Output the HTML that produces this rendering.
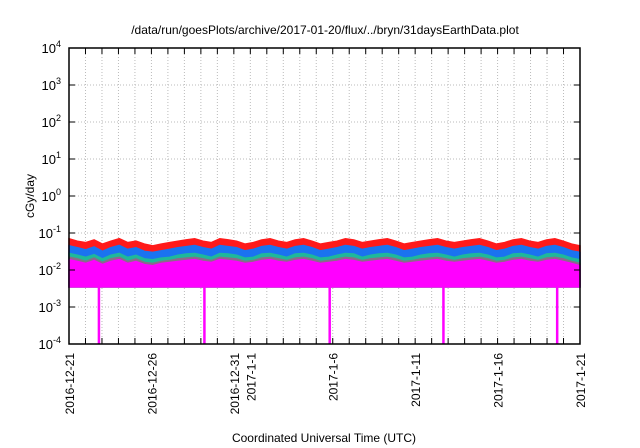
<!DOCTYPE html>
<html><head><meta charset="utf-8"><style>
body{margin:0;background:#fff;}
svg{display:block;font-family:"Liberation Sans",sans-serif;}
</style></head><body>
<svg id="chart" width="640" height="448" viewBox="0 0 640 448">
<rect width="640" height="448" fill="#fff"/>
<text x="325" y="34" text-anchor="middle" font-size="12">/data/run/goesPlots/archive/2017-01-20/flux/../bryn/31daysEarthData.plot</text>
<text transform="translate(34,196) rotate(-90)" text-anchor="middle" font-size="12">cGy/day</text>
<text x="324" y="442" text-anchor="middle" font-size="12">Coordinated Universal Time (UTC)</text>
<g id="grid"></g><g id="series"></g><g id="axes"></g>
</svg>
<script>
const yTickExps=[-4,-3,-2,-1,0,1,2,3,4];
const xTickLabels=["2016-12-21","2016-12-26","2016-12-31","2017-1-1","2017-1-6","2017-1-11","2017-1-16","2017-1-21"];
const xTickDays=[0,5,10,11,16,21,26,31];
const red=[0.07,0.06,0.055,0.065,0.05,0.06,0.07,0.055,0.06,0.05,0.045,0.05,0.055,0.06,0.065,0.07,0.06,0.055,0.07,0.065,0.06,0.05,0.055,0.065,0.07,0.06,0.055,0.065,0.07,0.06,0.05,0.055,0.06,0.07,0.065,0.055,0.06,0.065,0.07,0.06,0.05,0.055,0.06,0.065,0.07,0.06,0.055,0.06,0.065,0.07,0.06,0.05,0.055,0.065,0.07,0.06,0.055,0.065,0.07,0.06,0.05,0.045];
const blue=[0.045,0.04,0.035,0.042,0.032,0.04,0.046,0.036,0.04,0.032,0.03,0.033,0.036,0.04,0.043,0.046,0.04,0.036,0.046,0.043,0.04,0.033,0.036,0.043,0.046,0.04,0.036,0.043,0.046,0.04,0.033,0.036,0.04,0.046,0.043,0.036,0.04,0.043,0.046,0.04,0.033,0.036,0.04,0.043,0.046,0.04,0.036,0.04,0.043,0.046,0.04,0.033,0.036,0.043,0.046,0.04,0.036,0.043,0.046,0.04,0.033,0.03];
const teal=[0.028,0.025,0.022,0.026,0.02,0.025,0.028,0.022,0.025,0.02,0.019,0.021,0.022,0.025,0.027,0.028,0.025,0.022,0.028,0.027,0.025,0.021,0.022,0.027,0.028,0.025,0.022,0.027,0.028,0.025,0.021,0.022,0.025,0.028,0.027,0.022,0.025,0.027,0.028,0.025,0.021,0.022,0.025,0.027,0.028,0.025,0.022,0.025,0.027,0.028,0.025,0.021,0.022,0.027,0.028,0.025,0.022,0.027,0.028,0.025,0.021,0.019];
const gray=[0.022,0.02,0.017,0.021,0.016,0.02,0.022,0.017,0.02,0.016,0.015,0.017,0.018,0.02,0.021,0.022,0.02,0.018,0.022,0.021,0.02,0.017,0.018,0.021,0.022,0.02,0.018,0.021,0.022,0.02,0.017,0.018,0.02,0.022,0.021,0.018,0.02,0.021,0.022,0.02,0.017,0.018,0.02,0.021,0.022,0.02,0.018,0.02,0.021,0.022,0.02,0.017,0.018,0.021,0.022,0.02,0.018,0.021,0.022,0.02,0.017,0.015];
const magenta=[0.019,0.017,0.015,0.018,0.014,0.017,0.019,0.015,0.017,0.014,0.013,0.015,0.016,0.017,0.018,0.019,0.017,0.016,0.019,0.018,0.017,0.015,0.016,0.018,0.019,0.017,0.016,0.018,0.019,0.017,0.015,0.016,0.017,0.019,0.018,0.016,0.017,0.018,0.019,0.017,0.015,0.016,0.017,0.018,0.019,0.017,0.016,0.017,0.018,0.019,0.017,0.015,0.016,0.018,0.019,0.017,0.016,0.018,0.019,0.017,0.015,0.013];
const floorValue=0.0035;
const dipDays=[1.8,8.2,15.8,22.7,29.6];
const L=69,R=580,T=48,B=344,NS="http://www.w3.org/2000/svg";
function xs(d){return L+(R-L)*d/31;}
function ys(v){return B-(B-T)*(Math.log10(v)+4)/8;}
function mk(tag,attrs,parent){const e=document.createElementNS(NS,tag);for(const k in attrs)e.setAttribute(k,attrs[k]);parent.appendChild(e);return e;}
const grid=document.getElementById('grid'),ser=document.getElementById('series'),ax=document.getElementById('axes');
for(let d=1;d<31;d++){const l=mk('line',{x1:xs(d),x2:xs(d),y1:T,y2:B,stroke:'#bbb','stroke-dasharray':'1,2','stroke-width':1},grid);

}
yTickExps.forEach(e=>{const y=ys(Math.pow(10,e));
if(e>-4&&e<4){const l=mk('line',{x1:L,x2:R,y1:y,y2:y,stroke:'#bbb','stroke-dasharray':'1,2'},grid);

}
const t=mk('text',{x:L-8,y:y+5,'text-anchor':'end','font-size':13},ax);


t.textContent='10';const s=mk('tspan',{dy:-6,'font-size':9},t);s.textContent=String(e);
mk('line',{x1:L,x2:L+6,y1:y,y2:y,stroke:'#000'},ax);mk('line',{x1:R,x2:R-6,y1:y,y2:y,stroke:'#000'},ax);});
function area(arr,color,name){const n=arr.length;let p='M'+xs(0)+','+ys(floorValue);
arr.forEach((v,i)=>{p+=' L'+xs(31*i/(n-1))+','+ys(v);});p+=' L'+xs(31)+','+ys(floorValue)+' Z';
const e=mk('path',{d:p,fill:color,stroke:color,'stroke-width':1.5},ser);

}
area(red,'#ff1a1a','series-red');area(blue,'#1a73f0','series-blue');area(teal,'#1fb89a','series-teal');area(gray,'#8a6a8a','series-gray');area(magenta,'#ff00ff','series-magenta');
dipDays.forEach(d=>{const r=mk('rect',{x:xs(d)-1,y:ys(floorValue),width:2.5,height:B-ys(floorValue),fill:'#ff00ff'},ser);

});
for(let d=0;d<=31;d++){mk('line',{x1:xs(d),x2:xs(d),y1:B,y2:B-6,stroke:'#000'},ax);mk('line',{x1:xs(d),x2:xs(d),y1:T,y2:T+6,stroke:'#000'},ax);}
xTickDays.forEach((d,i)=>{const t=mk('text',{transform:'translate('+(xs(d)+5)+','+(B+9)+') rotate(-90)','text-anchor':'end','font-size':12},ax);


t.textContent=xTickLabels[i];});
const f=mk('rect',{x:L,y:T,width:R-L,height:B-T,fill:'none',stroke:'#000','stroke-width':1.5},ax);


</script>
</body></html>
